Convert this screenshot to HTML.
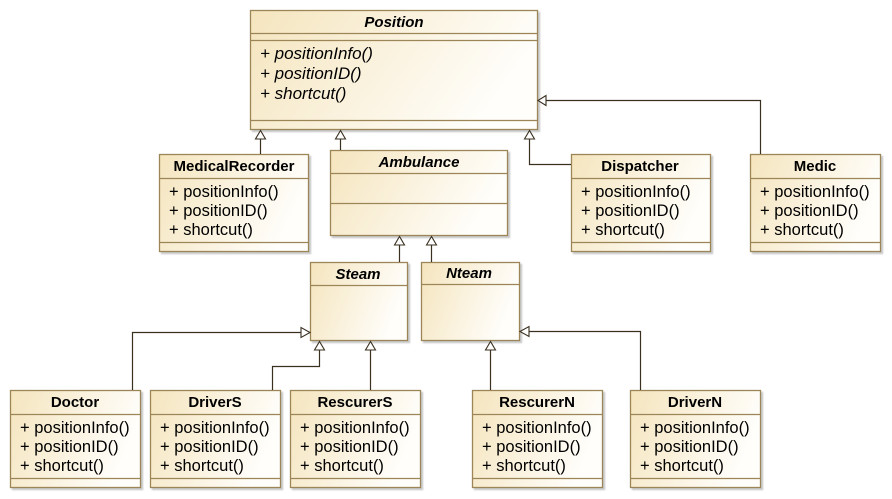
<!DOCTYPE html>
<html><head><meta charset="utf-8"><style>
body{margin:0;background:#fff;width:892px;height:499px;overflow:hidden;font-family:"Liberation Sans",sans-serif}
</style></head><body>
<svg width="892" height="499" xmlns="http://www.w3.org/2000/svg" style="position:absolute;left:0;top:0">
<defs>
<linearGradient id="g" x1="0" y1="0" x2="1" y2="0.3">
<stop offset="0" stop-color="#f5e5be"/><stop offset="1" stop-color="#fffefb"/>
</linearGradient>
<filter id="s" x="-5%" y="-5%" width="115%" height="115%"><feDropShadow dx="2" dy="2" stdDeviation="0.8" flood-color="#c8c8c8"/></filter>
</defs>
<g stroke="#9c8556" stroke-width="1.3" fill="url(#g)">
<rect x="250.5" y="10.5" width="287" height="119" filter="url(#s)"/>
<line x1="250" y1="33.5" x2="537" y2="33.5"/><line x1="250" y1="40.5" x2="537" y2="40.5"/><line x1="250" y1="120.5" x2="537" y2="120.5"/>

<rect x="159.5" y="154.5" width="149" height="97" filter="url(#s)"/>
<line x1="159" y1="178.5" x2="308" y2="178.5"/><line x1="159" y1="242.5" x2="308" y2="242.5"/>

<rect x="330.5" y="150.5" width="177" height="85" filter="url(#s)"/>
<line x1="330" y1="173.5" x2="507" y2="173.5"/><line x1="330" y1="203.5" x2="507" y2="203.5"/>

<rect x="571.5" y="154.5" width="139" height="97" filter="url(#s)"/>
<line x1="571" y1="178.5" x2="710" y2="178.5"/><line x1="571" y1="242.5" x2="710" y2="242.5"/>

<rect x="750.5" y="154.5" width="130" height="97" filter="url(#s)"/>
<line x1="750" y1="178.5" x2="880" y2="178.5"/><line x1="750" y1="242.5" x2="880" y2="242.5"/>

<rect x="310.5" y="262.5" width="97" height="78" filter="url(#s)"/>
<line x1="310" y1="285.5" x2="407" y2="285.5"/>
<rect x="421.5" y="262.5" width="98" height="78" filter="url(#s)"/>
<line x1="421" y1="284.5" x2="519" y2="284.5"/>

<rect x="10.5" y="390.5" width="130" height="97" filter="url(#s)"/>
<line x1="10" y1="414.5" x2="140" y2="414.5"/><line x1="10" y1="478.5" x2="140" y2="478.5"/>
<rect x="150.5" y="390.5" width="130" height="97" filter="url(#s)"/>
<line x1="150" y1="414.5" x2="280" y2="414.5"/><line x1="150" y1="478.5" x2="280" y2="478.5"/>
<rect x="290.5" y="390.5" width="130" height="97" filter="url(#s)"/>
<line x1="290" y1="414.5" x2="420" y2="414.5"/><line x1="290" y1="478.5" x2="420" y2="478.5"/>
<rect x="472.5" y="390.5" width="130" height="97" filter="url(#s)"/>
<line x1="472" y1="414.5" x2="602" y2="414.5"/><line x1="472" y1="478.5" x2="602" y2="478.5"/>
<rect x="630.5" y="390.5" width="130" height="97" filter="url(#s)"/>
<line x1="630" y1="414.5" x2="760" y2="414.5"/><line x1="630" y1="478.5" x2="760" y2="478.5"/>
</g>
<g stroke="#3a3020" stroke-width="1.2" fill="none">
<polyline points="260.5,139 260.5,154"/>
<polyline points="340.5,139 340.5,150"/>
<polyline points="529.5,139 529.5,164.5 571,164.5"/>
<polyline points="546,100.5 760.5,100.5 760.5,154"/>
<polyline points="399.5,245 399.5,262"/>
<polyline points="431.5,245 431.5,262"/>
<polyline points="301,332.5 132.5,332.5 132.5,390"/>
<polyline points="319.5,350 319.5,366.5 272.5,366.5 272.5,390"/>
<polyline points="370.5,350 370.5,390"/>
<polyline points="490.5,350 490.5,390"/>
<polyline points="529,331.5 640.5,331.5 640.5,390"/>
</g>
<g stroke="#3a3020" stroke-width="1.1" fill="#fff">
<polygon points="260.5,130.5 255.5,139 265.5,139"/>
<polygon points="340.5,130.5 335.5,139 345.5,139"/>
<polygon points="529.5,130.5 524.5,139 534.5,139"/>
<polygon points="538,100.5 546,95.5 546,105.5"/>
<polygon points="399.5,236.5 394.5,245 404.5,245"/>
<polygon points="431.5,236.5 426.5,245 436.5,245"/>
<polygon points="310,332.5 301,327.5 301,337.5"/>
<polygon points="319.5,341.5 314.5,350 324.5,350"/>
<polygon points="370.5,341.5 365.5,350 375.5,350"/>
<polygon points="490.5,341.5 485.5,350 495.5,350"/>
<polygon points="520,331.5 529,326.5 529,336.5"/>
</g>
<g font-family="Liberation Sans, sans-serif" font-size="16.5" fill="#000">
<g font-weight="bold" text-anchor="middle" font-size="15">
<text x="394" y="27" font-style="italic">Position</text>
<text x="234" y="171">MedicalRecorder</text>
<text x="419" y="167" font-style="italic">Ambulance</text>
<text x="640" y="171">Dispatcher</text>
<text x="815" y="171">Medic</text>
<text x="358" y="279" font-style="italic">Steam</text>
<text x="469" y="278" font-style="italic">Nteam</text>
<text x="75" y="407">Doctor</text>
<text x="215" y="407">DriverS</text>
<text x="355" y="407">RescurerS</text>
<text x="537" y="407">RescurerN</text>
<text x="695" y="407">DriverN</text>
</g>
<g font-style="italic" font-size="17"><text x="260" y="59">+ positionInfo()</text><text x="260" y="79">+ positionID()</text><text x="260" y="99">+ shortcut()</text></g>
<g><text x="169" y="197">+ positionInfo()</text><text x="169" y="216">+ positionID()</text><text x="169" y="235">+ shortcut()</text></g>
<g><text x="581" y="197">+ positionInfo()</text><text x="581" y="216">+ positionID()</text><text x="581" y="235">+ shortcut()</text></g>
<g><text x="760" y="197">+ positionInfo()</text><text x="760" y="216">+ positionID()</text><text x="760" y="235">+ shortcut()</text></g>
<g><text x="20" y="433">+ positionInfo()</text><text x="20" y="452">+ positionID()</text><text x="20" y="471">+ shortcut()</text></g>
<g><text x="160" y="433">+ positionInfo()</text><text x="160" y="452">+ positionID()</text><text x="160" y="471">+ shortcut()</text></g>
<g><text x="300" y="433">+ positionInfo()</text><text x="300" y="452">+ positionID()</text><text x="300" y="471">+ shortcut()</text></g>
<g><text x="482" y="433">+ positionInfo()</text><text x="482" y="452">+ positionID()</text><text x="482" y="471">+ shortcut()</text></g>
<g><text x="640" y="433">+ positionInfo()</text><text x="640" y="452">+ positionID()</text><text x="640" y="471">+ shortcut()</text></g>
</g>
</svg>
</body></html>
